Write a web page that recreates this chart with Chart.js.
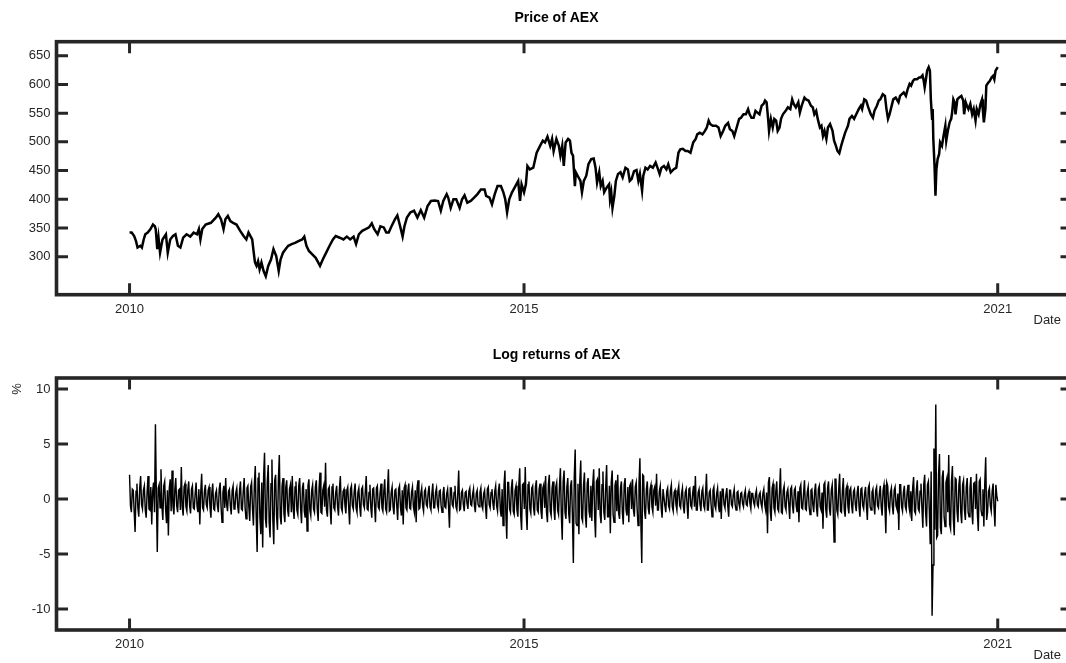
<!DOCTYPE html>
<html>
<head>
<meta charset="utf-8">
<script src="https://cdn.jsdelivr.net/npm/chart.js@4.4.1/dist/chart.umd.min.js"></script>
<style>
html,body{margin:0;padding:0;background:#fff;overflow:hidden;width:1066px;height:663px;}
#c1{position:absolute;left:0;top:0;width:1113px;height:336px;}
#c2{position:absolute;left:0;top:336px;width:1113px;height:327px;}
</style>
</head>
<body>
<canvas id="c1" width="1113" height="336"></canvas>
<canvas id="c2" width="1113" height="327"></canvas>
<script>
// ---------- data ----------
const titlePrice = 'Price of AEX';
const titleReturns = 'Log returns of AEX';
const xAxisLabel = 'Date';
const yLabelReturns = '%';

// trading-day index of the x tick marks and their labels
const xTickDays = [0, 1280, 2817];
const xTickLabels = ['2010', '2015', '2021'];

const priceTicks = [300, 350, 400, 450, 500, 550, 600, 650];
const returnTicks = [-10, -5, 0, 5, 10];

// price of AEX (trading-day index, index level)
const priceDays = [
0,7,15,21,26,35,40,46,51,59,
68,76,82,85,90,94,99,107,118,124,
132,141,149,157,165,174,185,197,208,219,
225,230,236,247,264,280,288,297,305,311,
319,327,336,347,359,370,379,386,398,403,
407,412,417,422,428,435,442,450,459,467,
476,484,490,498,506,515,526,537,548,560,
567,574,582,593,604,612,618,627,638,649,
660,669,682,694,705,716,727,735,744,755,
766,777,786,794,805,814,825,833,841,850,
861,869,878,886,892,900,911,923,934,945,
956,967,978,990,1001,1010,1018,1029,1034,1042,
1051,1060,1071,1079,1087,1096,1107,1118,1129,1140,
1152,1157,1168,1176,1185,1194,1205,1213,1219,1225,
1232,1241,1252,1261,1267,1272,1280,1286,1291,
1299,1310,1321,1332,1341,1348,1356,1365,1371,1376,
1385,1393,1398,1404,1409,1415,1423,1429,1434,1439,
1445,1448,1454,1463,1468,1474,1482,1489,1498,1506,
1512,1517,1524,1529,1535,1540,1548,1556,1559,1563,
1567,1573,1578,1585,1593,1600,1609,1617,1623,1629,
1637,1645,1651,1656,1663,1667,1674,1681,1689,1698,
1707,1715,1720,1726,1734,1742,1748,1756,1765,1774,
1781,1787,1795,1804,1811,1820,1829,1837,1842,1850,
1859,1867,1873,1879,1884,1892,1903,1911,1918,1926,
1933,1942,1948,1956,1962,1970,1978,1984,1992,2000,
2007,2012,2018,2025,2031,2037,2044,2051,2057,2062,
2067,2072,2075,2081,2087,2092,2098,2103,2109,2114,
2120,2129,2136,2144,2150,2155,2162,2170,2175,2181,
2190,2195,2203,2211,2217,2222,2228,2233,2240,2245,
2250,2255,2261,2266,2273,2281,2286,2292,2297,2303,
2309,2314,2322,2331,2336,2344,2351,2358,2366,2373,
2377,2384,2390,2397,2405,2412,2417,2425,2431,2436,
2444,2451,2456,2461,2466,2473,2478,2486,2495,2500,
2506,2512,2519,2525,2531,2536,2542,2547,2555,2562,
2567,2573,2577,2580,2584,2588,2593,2597,2600,2604,
2606,2608,2612,2615,2618,2622,2627,2630,2636,2641,
2647,2650,2655,2661,2666,2669,2673,2677,2680,2686,
2691,2699,2705,2708,2713,2717,2722,2728,2734,2739,
2745,2749,2755,2761,2766,2769,2772,2777,2780,2786,
2791,2797,2802,2806,2810,2817
];
const priceValues = [
342,342,336,327,316,319,316,330,339,342,
348,356,353,348,313,333,307,330,339,307,
330,336,339,319,316,333,339,335,342,339,
348,330,348,356,359,368,374,365,348,365,
371,362,359,356,345,336,330,342,330,307,
290,284,292,278,290,275,266,284,295,313,
301,275,295,307,313,319,322,324,327,330,
335,319,310,304,298,290,284,295,307,319,
330,336,333,330,335,330,335,322,339,345,
348,351,358,348,339,353,351,342,342,353,
365,372,353,335,353,368,377,380,368,381,
368,388,397,398,397,380,397,409,403,385,
400,400,385,400,407,394,397,403,409,417,
417,406,403,391,409,423,423,412,400,377,
400,412,423,432,397,426,412,426,458,
452,455,481,493,502,499,509,493,505,484,
505,493,476,493,458,499,505,502,481,476,
423,447,441,432,412,432,441,461,470,471,
455,429,447,423,432,412,420,426,400,412,
385,406,432,444,447,438,455,452,432,435,
449,451,432,444,415,441,455,452,458,455,
464,452,444,455,458,452,461,447,452,455,
481,487,488,484,484,481,499,505,513,516,
513,519,525,537,531,528,528,525,510,519,
528,533,522,519,510,525,540,542,548,548,
557,548,542,542,554,551,548,563,566,572,
569,540,519,540,525,540,537,519,525,540,
548,554,560,557,574,566,560,569,551,563,
577,574,572,563,560,548,554,540,525,528,
510,519,505,525,531,519,502,493,484,480,
493,502,516,528,540,545,540,548,557,563,
557,574,572,560,548,542,554,563,572,574,
583,580,557,540,548,563,574,577,569,580,
583,586,580,592,601,598,606,609,609,612,
612,616,606,595,609,624,630,624,574,540,
557,505,458,406,452,470,479,499,493,510,
528,502,519,534,540,551,574,569,548,574,
577,580,572,548,569,563,557,566,548,557,
537,557,548,566,574,554,534,557,598,603,
606,612,615,609,624,630
];

// log returns (%): readings on every 6th trading day (day 0, 6, 12, ...)
const returnStepDays = 6;
const returnValues = [
2.2,-1.2,0.8,-3.0,1.4,-1.6,2.1,-0.9,1.2,-1.7,
2.1,-1.0,-2.3,1.5,6.8,-4.8,1.3,2.7,-1.9,1.6,
-2.2,-3.3,1.8,2.6,-1.4,1.9,-1.2,0.9,2.9,-1.5,
1.4,-1.1,1.6,-1.3,1.2,-0.9,1.5,-1.2,-2.3,2.3,
-1.0,1.3,-0.8,1.1,-1.7,1.4,-1.0,0.8,-1.2,1.5,
-2.1,1.2,1.9,-1.1,0.9,-1.4,1.2,-0.8,1.0,-1.3,
1.6,-1.0,1.9,-1.8,1.2,-2.0,1.5,-2.4,3.0,-4.8,
2.4,-3.2,-4.4,4.2,-2.6,3.1,-3.5,3.6,-4.1,2.2,
-2.8,4.0,-2.3,1.9,-2.1,1.7,-1.6,1.3,2.1,-1.8,
1.6,-1.4,1.9,-2.2,1.5,-1.7,-2.9,1.8,-1.5,1.3,
-1.2,1.7,-2.0,2.4,-1.3,1.2,3.3,-1.6,1.1,-2.3,
1.4,-1.0,1.2,-1.5,2.1,-1.1,0.9,-1.3,1.1,-2.3,
1.2,-0.9,1.4,-1.2,1.0,-1.6,1.1,-0.8,2.1,-1.0,
1.3,-1.7,1.0,-2.1,1.2,-0.9,1.4,-1.1,1.8,-1.2,
2.7,-1.0,1.1,-1.4,0.9,-1.9,1.2,-1.5,-2.3,1.3,
-1.0,1.4,-0.9,1.1,-1.2,-2.1,1.7,-0.8,1.0,-1.1,
0.9,-0.7,1.2,-1.0,1.4,-0.8,1.0,-0.9,0.8,-1.2,
1.1,-0.8,0.9,-2.6,1.0,-0.7,1.2,-1.0,2.6,-0.9,
0.8,-1.1,0.7,-0.9,1.0,-0.6,0.9,-1.2,0.8,-0.7,
1.0,-0.9,0.8,-1.8,1.1,-0.8,0.9,-1.0,1.2,-1.1,
1.4,-1.6,-2.4,2.6,-3.6,1.5,-1.2,1.8,-1.4,1.2,
-1.6,2.8,-2.8,1.4,2.9,-2.8,1.6,-1.3,1.2,-1.5,
1.7,-1.2,1.4,-1.8,1.3,2.1,-2.1,2.2,-1.5,1.6,
-1.9,1.5,-1.4,2.8,-3.7,2.6,-1.8,1.9,-2.2,1.7,
-5.8,4.5,-2.4,-3.2,3.5,-2.0,2.4,-2.6,1.9,-1.7,
-2.0,2.7,-3.5,1.8,2.8,-2.2,2.5,-1.9,3.1,-1.6,
-3.1,2.6,-2.1,1.7,2.2,-1.8,1.6,-2.3,1.9,-1.5,
-2.1,1.4,1.8,-1.6,1.5,-2.4,3.7,-5.8,2.1,-1.8,
1.6,-1.4,1.3,-1.2,1.1,2.3,-1.0,1.2,-1.7,0.9,
-1.2,1.0,-0.9,1.3,-1.1,0.8,-1.0,1.2,-0.8,1.0,
-1.3,0.9,-1.8,1.0,-0.8,1.2,2.1,-1.0,0.9,-1.1,
1.0,-0.9,2.3,-1.0,0.8,-1.6,1.1,-0.9,1.0,-1.2,
-1.8,0.9,-0.8,1.0,-1.6,0.8,-0.7,0.9,-1.0,0.7,
-0.8,0.6,-0.7,0.8,-0.6,0.7,-0.9,0.5,-0.6,0.8,
-0.7,0.6,-0.8,0.9,-1.0,-3.1,2.0,-2.0,1.4,-1.2,
1.6,-1.1,2.8,-1.3,1.2,-1.0,0.9,-1.8,1.1,-1.3,
1.0,-1.2,-2.1,1.3,-0.9,1.7,-1.0,1.1,-1.4,0.9,
-1.2,1.4,-1.6,1.2,-1.0,-2.7,1.5,-1.7,1.6,-1.5,
1.3,-3.9,1.8,-1.4,2.3,-1.2,1.9,-1.6,1.2,-1.3,
1.0,-1.3,0.9,-1.1,1.2,-1.6,1.0,-0.9,1.1,-1.9,
1.3,-1.0,0.9,-1.4,1.1,-0.8,1.2,-1.5,1.3,-3.1,
1.2,-1.1,1.0,-1.4,1.1,-0.9,-2.8,1.3,-1.1,1.2,
-1.0,1.3,-1.2,-2.0,2.0,-1.3,1.7,-1.1,1.4,-2.6,
2.2,-2.5,1.6,-4.1,-10.6,4.6,8.6,-3.3,4.1,-3.2,
2.6,-2.5,1.9,4.0,-2.7,3.0,-3.3,1.8,-2.1,2.1,
-2.2,1.7,-1.9,1.9,-1.6,2.0,-2.3,1.5,2.3,-2.9,
1.8,-1.5,-2.5,3.8,-1.2,1.0,-1.1,1.4,-2.5,0.3
];
// log returns (%): readings on the days in between (day 3, 9, 15, ...)
const returnValuesMid = [
-0.6,0.9,-1.1,0.7,-0.8,1.0,-0.5,0.8,-1.0,0.6,
-0.9,1.1,0.7,-1.2,0.4,1.0,-0.8,-0.6,1.2,-0.9,
0.8,1.0,-1.1,-0.7,0.9,-0.6,0.8,-1.0,-0.7,1.1,
-0.7,0.8,-0.6,0.9,-0.8,0.5,-0.7,0.9,0.6,-0.8,
0.7,-0.5,0.8,-0.7,0.6,-0.9,0.5,-0.6,0.9,-0.7,
0.6,-0.8,-0.5,0.7,-0.6,0.8,-0.9,0.6,-0.7,0.8,
-0.9,0.7,-0.8,1.0,-0.7,1.1,-0.9,1.3,-1.6,1.9,
-1.7,1.5,2.0,-1.8,1.6,-2.1,1.4,-1.9,1.7,-1.5,
1.8,-1.6,1.2,-1.3,1.1,-1.0,0.9,-1.2,-0.9,1.1,
-1.0,1.2,-0.8,1.0,-1.1,0.9,1.2,-1.0,0.8,-0.9,
1.1,-0.9,1.0,-1.2,0.8,-0.7,-1.0,0.9,-0.8,1.1,
-0.8,0.6,-0.7,0.9,-0.8,0.7,-0.6,0.8,-0.7,0.9,
-0.6,0.7,-0.8,0.6,-0.7,0.9,-0.5,0.7,-0.9,0.6,
-0.8,0.9,-0.6,1.0,-0.7,0.6,-0.8,0.7,-0.9,0.8,
-1.1,0.6,-0.7,0.8,-0.6,0.9,-0.7,0.8,1.0,-0.8,
0.7,-0.8,0.6,-0.7,0.8,1.0,-0.9,0.5,-0.6,0.7,
-0.5,0.6,-0.7,0.5,-0.8,0.6,-0.5,0.7,-0.6,0.5,
-0.7,0.5,-0.6,1.0,-0.5,0.6,-0.7,0.5,-1.0,0.6,
-0.5,0.6,-0.4,0.7,-0.5,0.4,-0.6,0.5,-0.5,0.6,
-0.6,0.5,-0.7,0.9,-0.5,0.6,-0.4,0.7,-0.6,0.8,
-1.0,0.9,1.2,-1.3,1.5,-0.9,1.0,-1.1,0.8,-1.0,
1.2,-1.4,1.3,-0.9,-1.2,1.3,-0.9,1.0,-0.8,1.1,
-1.0,0.9,-1.1,1.0,-0.8,-1.2,1.3,-1.1,1.0,-0.9,
1.1,-1.0,1.2,-1.4,1.6,-1.2,1.1,-1.3,1.2,-1.5,
2.0,-2.2,1.4,1.6,-1.7,1.2,-1.5,1.4,-1.1,1.2,
1.3,-1.5,1.6,-1.0,-1.4,1.3,-1.2,1.1,-1.6,1.2,
1.5,-1.4,1.2,-1.1,-1.3,1.0,-1.2,1.3,-1.0,1.1,
1.2,-0.9,-1.0,1.1,-0.9,1.4,-2.0,2.2,-1.1,0.9,
-0.8,0.9,-0.7,0.8,-0.6,-1.0,0.7,-0.8,0.9,-0.6,
0.7,-0.6,0.8,-0.7,0.6,-0.5,0.7,-0.6,0.5,-0.7,
0.6,-0.5,0.9,-0.6,0.5,-0.7,-1.0,0.6,-0.5,0.7,
-0.6,0.5,-1.0,0.6,-0.5,0.8,-0.6,0.5,-0.6,0.7,
0.9,-0.5,0.4,-0.6,0.8,-0.5,0.4,-0.5,0.6,-0.4,
0.5,-0.4,0.4,-0.5,0.4,-0.4,0.5,-0.3,0.4,-0.5,
0.4,-0.4,0.5,-0.5,0.6,1.5,-1.1,1.0,-0.8,0.7,
-0.9,0.7,-1.2,0.8,-0.7,0.6,-0.5,0.9,-0.6,0.8,
-0.6,0.7,1.0,-0.8,0.5,-0.9,0.6,-0.7,0.8,-0.5,
0.7,-0.8,0.9,-0.7,0.6,1.3,-0.9,1.0,-0.9,0.8,
-0.7,1.8,-1.0,0.8,-1.1,0.7,-1.0,0.9,-0.7,0.8,
-0.6,0.7,-0.5,0.6,-0.7,0.9,-0.6,0.5,-0.6,1.0,
-0.7,0.6,-0.5,0.8,-0.6,0.5,-0.7,0.8,-0.7,1.5,
-0.7,0.6,-0.6,0.8,-0.6,0.5,1.3,-0.7,0.6,-0.7,
0.6,-0.7,0.7,1.0,-1.1,0.8,-0.9,0.7,-0.8,1.3,
-1.2,1.3,-1.0,2.5,-6.0,-2.8,-3.5,2.2,-2.6,2.0,
-1.6,1.5,-1.2,-2.3,1.6,-1.8,1.9,-1.1,1.3,-1.2,
1.3,-1.0,1.1,-1.2,1.0,-1.1,1.4,-0.9,-1.3,1.6,
-1.0,0.9,1.4,-1.9,0.7,-0.6,0.7,-0.8,1.3,-0.2
];

// ---------- styling ----------
const FONT = '"Liberation Sans", Arial, Helvetica, sans-serif';
const AXIS_COLOR = '#262626';
const TEXT_COLOR = '#262626';
const TICK_LEN = 11.5;
const CANVAS_W = 1113;
const PLOT_RIGHT = 1072;
const PLOT_LEFT = 56.5;
const X_MIN = -237, X_MAX = 3058;

const matlabBox = {
  id: 'matlabBox',
  afterDraw(chart, args, opts) {
    const {ctx, chartArea: a, scales} = chart;
    ctx.save();
    ctx.strokeStyle = AXIS_COLOR;
    ctx.lineCap = 'butt';
    ctx.lineWidth = 3;
    ctx.beginPath();
    scales.y.ticks.forEach(t => {
      const p = scales.y.getPixelForValue(t.value);
      ctx.moveTo(a.left, p); ctx.lineTo(a.left + TICK_LEN, p);
      ctx.moveTo(a.right, p); ctx.lineTo(a.right - TICK_LEN, p);
    });
    scales.x.ticks.forEach(t => {
      const p = scales.x.getPixelForValue(t.value);
      ctx.moveTo(p, a.bottom); ctx.lineTo(p, a.bottom - TICK_LEN);
      ctx.moveTo(p, a.top); ctx.lineTo(p, a.top + TICK_LEN);
    });
    ctx.stroke();
    ctx.lineWidth = 3.6;
    ctx.lineJoin = 'miter';
    ctx.strokeRect(a.left, a.top, a.right - a.left, a.bottom - a.top);
    ctx.fillStyle = TEXT_COLOR;
    ctx.font = '13px ' + FONT;
    if (opts.xLabel) {
      ctx.textAlign = 'left';
      ctx.textBaseline = 'middle';
      ctx.fillText(opts.xLabel, a.right - 38.5, a.bottom + 25.5);
    }
    if (opts.yLabel) {
      ctx.translate(17, a.top + 11);
      ctx.rotate(-Math.PI / 2);
      ctx.textAlign = 'center';
      ctx.textBaseline = 'middle';
      ctx.fillText(opts.yLabel, 0, 0);
    }
    ctx.restore();
  }
};

function makeChart(canvasId, points, lineWidth, yMin, yMax, yTicks, title, titlePad, xHeight, yLabel) {
  return new Chart(document.getElementById(canvasId), {
    type: 'line',
    data: { datasets: [{
      data: points, borderColor: '#000000', borderWidth: lineWidth,
      pointRadius: 0, tension: 0, fill: false, borderJoinStyle: 'miter'
    }] },
    options: {
      responsive: false, animation: false, devicePixelRatio: 1,
      layout: { padding: 0 },
      plugins: {
        legend: { display: false }, tooltip: { enabled: false },
        title: { display: true, text: title, color: '#000000',
          font: { family: FONT, size: 14, weight: 'bold' }, padding: titlePad },
        matlabBox: { xLabel: xAxisLabel, yLabel: yLabel }
      },
      scales: {
        x: {
          type: 'linear', position: 'bottom', min: X_MIN, max: X_MAX,
          grid: { display: false, drawTicks: false }, border: { display: false },
          afterBuildTicks: s => { s.ticks = xTickDays.map(v => ({ value: v })); },
          afterFit: s => { s.height = xHeight; },
          ticks: { padding: 6.5, autoSkip: false, maxRotation: 0, color: TEXT_COLOR,
            font: { family: FONT, size: 13 }, callback: (v, i) => xTickLabels[i] }
        },
        y: {
          type: 'linear', position: 'left', min: yMin, max: yMax,
          grid: { display: false, drawTicks: false }, border: { display: false },
          afterBuildTicks: s => { s.ticks = yTicks.map(v => ({ value: v })); },
          afterFit: s => { s.width = PLOT_LEFT; },
          ticks: { padding: 6, color: TEXT_COLOR, font: { family: FONT, size: 13 } }
        },
        yR: {
          type: 'linear', position: 'right', min: 0, max: 1,
          grid: { display: false, drawTicks: false }, border: { display: false },
          ticks: { display: false },
          afterFit: s => { s.width = CANVAS_W - PLOT_RIGHT; }
        }
      }
    },
    plugins: [matlabBox]
  });
}

const pricePoints = priceDays.map((d, i) => ({ x: d, y: priceValues[i] }));
const returnPoints = [];
returnValues.forEach((v, i) => {
  returnPoints.push({ x: i * returnStepDays, y: v });
  returnPoints.push({ x: i * returnStepDays + returnStepDays / 2, y: returnValuesMid[i] });
});

makeChart('c1', pricePoints, 2.5, 233.8, 674.4, priceTicks, titlePrice,
  { top: 9.3, bottom: 15.6 }, 336 - 294.7, '');
makeChart('c2', returnPoints, 1.45, -11.9, 11.0, returnTicks, titleReturns,
  { top: 10.6, bottom: 14.6 }, 327 - 294, yLabelReturns);
</script>
</body>
</html>
